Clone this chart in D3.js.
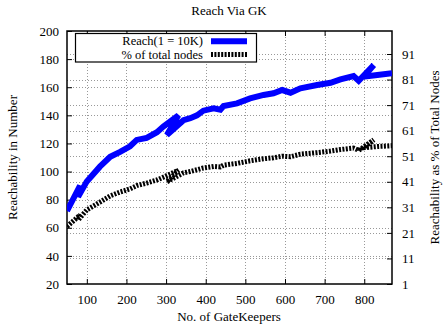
<!DOCTYPE html>
<html>
<head>
<meta charset="utf-8">
<script src="https://cdn.jsdelivr.net/npm/d3@7"></script>
<style>
  body { margin: 0; background: #fff; }
  text { font-family: "Liberation Serif", "DejaVu Serif", serif; fill: #000; }
</style>
</head>
<body>
<div id="chart"></div>
<script>
// data (x goes back a little at the 3 spikes)
var gatekeepers = [50, 83, 78, 100, 133, 159, 184, 209, 226, 251, 277, 293, 331, 302, 344, 361, 378, 394,
  420, 437, 445, 479, 512, 546, 571, 593, 614, 639, 681, 715, 740, 773, 786, 824, 799, 833, 870];
var reach = [72, 90, 82, 93, 103.5, 110.5, 114, 118, 122.5, 124, 128, 132, 140, 126, 136.5, 138, 140, 143.3,
  145, 144, 146.6, 148.5, 152, 154.5, 155.7, 158, 156.1, 159.2, 161.6, 163.2, 165.6, 168, 164.6, 175.8, 167.5, 168.7, 170];
var pctNodes = [23.5, 28, 26, 30, 33, 35.5, 37, 38.2, 39.5, 40.5, 41.7, 42.8, 45.5, 41, 44.5, 45, 45.7, 46.4,
  47, 46.8, 47.5, 48.2, 49.2, 50, 50.4, 51, 50.8, 51.8, 52.4, 53, 53.6, 54.2, 53.3, 57.4, 54.3, 54.8, 55.1];

var xTicks = [100, 200, 300, 400, 500, 600, 700, 800];
var yTicks = [20, 40, 60, 80, 100, 120, 140, 160, 180, 200];
var y2Ticks = [1, 11, 21, 31, 41, 51, 61, 71, 81, 91];

var Width = 445, Height = 328;
var margin = {top: 31, right: 53, bottom: 44, left: 67},
    width = Width - margin.left - margin.right,
    height = Height - margin.top - margin.bottom;

var svg = d3.select("#chart")
  .append("svg")
    .attr("width", Width)
    .attr("height", Height);

var g = svg.append("g")
  .attr("transform", "translate(" + margin.left + "," + margin.top + ")");

var x = d3.scaleLinear().domain([50, 870]).range([0, width]);
var y = d3.scaleLinear().domain([20, 200]).range([height, 0]);
var y2 = d3.scaleLinear().domain([1, 100]).range([height, 0]);

// grid (dotted)
var grid = g.append("g").attr("stroke", "#999").attr("stroke-width", 1).attr("stroke-dasharray", "1,2");
grid.selectAll(".gx").data(xTicks).enter().append("line")
  .attr("x1", function(d) { return Math.round(x(d)) + 0.5; })
  .attr("x2", function(d) { return Math.round(x(d)) + 0.5; })
  .attr("y1", 0).attr("y2", height);
grid.selectAll(".gy").data(yTicks.slice(1, -1)).enter().append("line")
  .attr("x1", 0).attr("x2", width)
  .attr("y1", function(d) { return Math.round(y(d)) + 0.5; })
  .attr("y2", function(d) { return Math.round(y(d)) + 0.5; });
grid.selectAll(".gy2").data(y2Ticks.slice(1)).enter().append("line")
  .attr("x1", 0).attr("x2", width)
  .attr("y1", function(d) { return Math.round(y2(d)) + 0.5; })
  .attr("y2", function(d) { return Math.round(y2(d)) + 0.5; });

// axes, ticks pointing inward
var xAxis = g.append("g")
  .attr("transform", "translate(0," + height + ")")
  .call(d3.axisBottom(x).tickValues(xTicks).tickSizeInner(-5).tickSizeOuter(0).tickPadding(11));
var xTop = g.append("g")
  .call(d3.axisTop(x).tickValues(xTicks).tickSizeInner(-5).tickSizeOuter(0).tickFormat(""));
var yAxis = g.append("g")
  .call(d3.axisLeft(y).tickValues(yTicks).tickSizeInner(-5).tickSizeOuter(0).tickPadding(8));
var y2Axis = g.append("g")
  .attr("transform", "translate(" + width + ",0)")
  .call(d3.axisRight(y2).tickValues(y2Ticks).tickSizeInner(-5).tickSizeOuter(0).tickPadding(10));

g.selectAll(".domain").remove();
g.selectAll(".tick line").attr("stroke", "#000");
g.selectAll(".tick text").style("font-size", "13px").style("font-family", "Liberation Serif");

g.append("rect")
  .attr("width", width).attr("height", height)
  .attr("fill", "none").attr("stroke", "#000").attr("stroke-width", 1.5);

// lines
var pts = gatekeepers.map(function(d, i) { return {gk: d, reach: reach[i], pct: pctNodes[i]}; });

var reachLine = d3.line()
  .x(function(d) { return x(d.gk); })
  .y(function(d) { return y(d.reach); });
var pctLine = d3.line()
  .x(function(d) { return x(d.gk); })
  .y(function(d) { return y2(d.pct); });

var clip = svg.append("clipPath").attr("id", "clip")
  .append("rect").attr("width", width).attr("height", height);

var lines = g.append("g").attr("clip-path", "url(#clip)");
lines.append("path").datum(pts)
  .attr("d", pctLine)
  .attr("fill", "none").attr("stroke", "#000")
  .attr("stroke-width", 5).attr("stroke-dasharray", "2,1.4");
lines.append("path").datum(pts)
  .attr("d", reachLine)
  .attr("fill", "none").attr("stroke", "#0000ff")
  .attr("stroke-width", 6).attr("stroke-linejoin", "miter");

// legend
var legend = svg.append("g");
legend.append("rect")
  .attr("x", 75.5).attr("y", 33.5).attr("width", 181).attr("height", 28.5)
  .attr("fill", "#fff").attr("stroke", "#000").attr("stroke-width", 1.2);
legend.append("text").attr("x", 203).attr("y", 45).attr("text-anchor", "end")
  .style("font-size", "12.5px").text("Reach(1 = 10K)");
legend.append("text").attr("x", 203).attr("y", 59).attr("text-anchor", "end")
  .style("font-size", "12.5px").text("% of total nodes");
legend.append("line").attr("x1", 211).attr("x2", 247).attr("y1", 41.3).attr("y2", 41.3)
  .attr("stroke", "#0000ff").attr("stroke-width", 6);
legend.append("line").attr("x1", 211).attr("x2", 247).attr("y1", 54.5).attr("y2", 54.5)
  .attr("stroke", "#000").attr("stroke-width", 5).attr("stroke-dasharray", "2,1.4");

// titles
svg.append("text").attr("x", 229).attr("y", 15).attr("text-anchor", "middle")
  .style("font-size", "13px").text("Reach Via GK");
svg.append("text").attr("x", 229).attr("y", 321).attr("text-anchor", "middle")
  .style("font-size", "13px").text("No. of GateKeepers");
svg.append("text")
  .attr("transform", "translate(17," + (margin.top + height / 2) + ") rotate(-90)")
  .attr("text-anchor", "middle").style("font-size", "13px").text("Reachability in Number");
svg.append("text")
  .attr("transform", "translate(439," + (margin.top + height / 2) + ") rotate(-90)")
  .attr("text-anchor", "middle").style("font-size", "13px").text("Reachability as % of Total Nodes");
</script>
</body>
</html>
